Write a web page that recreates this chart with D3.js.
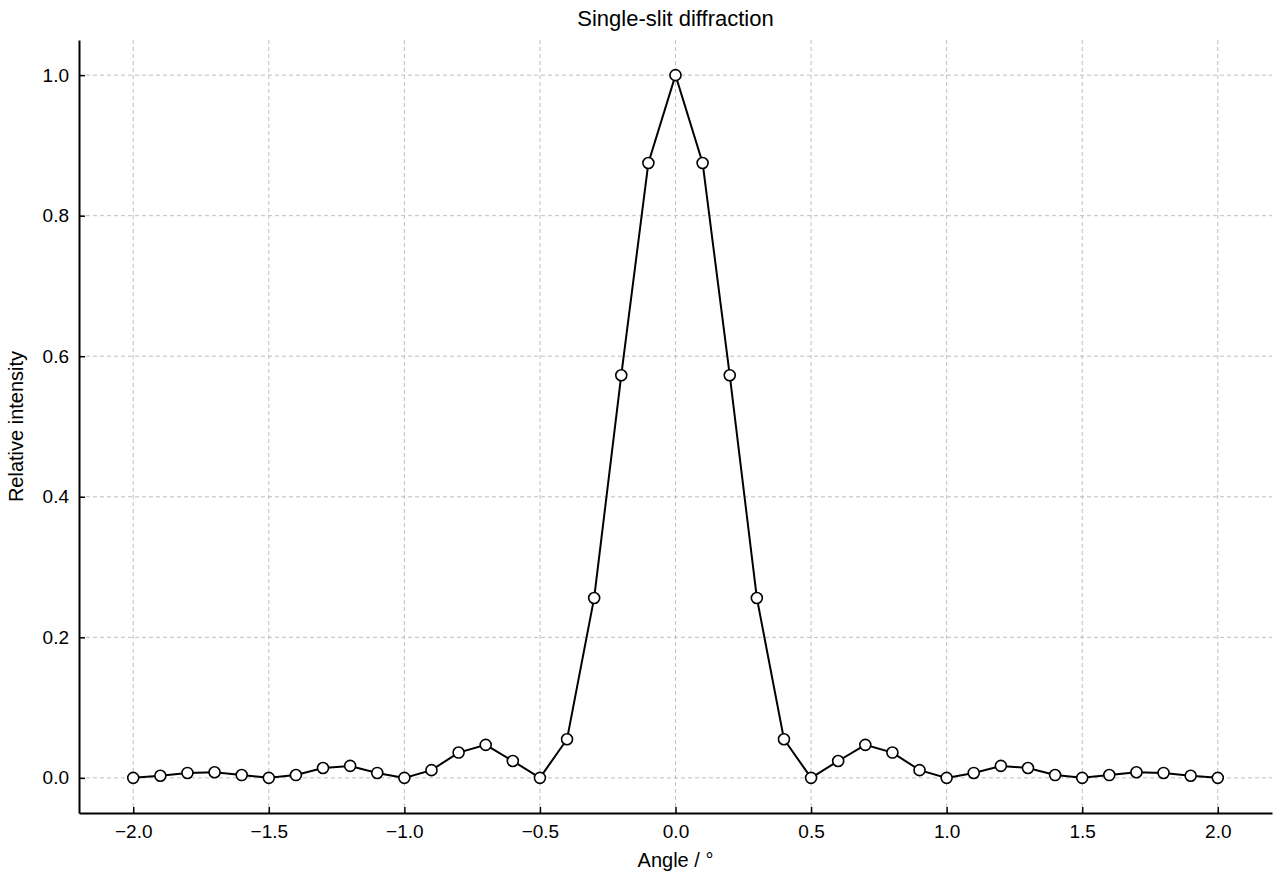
<!DOCTYPE html>
<html><head><meta charset="utf-8">
<script src="https://cdn.jsdelivr.net/npm/d3@7"></script>
<style>body{margin:0;background:#fff}text{font-family:"Liberation Sans",Arial,sans-serif}</style>
</head><body><div id="chart"></div>
<script>
const angles = d3.range(41).map(i => +(-2 + i * 0.1).toFixed(1));
const leftHalf = [0, 0.003, 0.007, 0.008, 0.004, 0, 0.004, 0.014, 0.017, 0.007,
  0, 0.011, 0.036, 0.047, 0.024, 0, 0.055, 0.256, 0.573, 0.875];
const intensity = [...leftHalf, 1, ...leftHalf.slice().reverse()];
const xTicks = [-2, -1.5, -1, -0.5, 0, 0.5, 1, 1.5, 2];
const yTicks = [0, 0.2, 0.4, 0.6, 0.8, 1.0];

const w = 1280, h = 880;
const m = {left: 79, right: 8, top: 40, bottom: 67};
const svg = d3.select('#chart').append('svg').attr('width', w).attr('height', h);

const x = d3.scaleLinear().domain([-2.2, 2.2]).range([m.left, w - m.right]);
const y = d3.scaleLinear().domain([-0.05, 1.05]).range([h - m.bottom, m.top]);

// grid
svg.append('g').selectAll('line').data(xTicks).enter().append('line')
  .attr('x1', d => x(d)).attr('x2', d => x(d)).attr('y1', m.top).attr('y2', h - m.bottom)
  .attr('stroke', '#b0b0b0').attr('stroke-dasharray', '4,3').attr('stroke-width', 0.8);
svg.append('g').selectAll('line').data(yTicks).enter().append('line')
  .attr('y1', d => y(d)).attr('y2', d => y(d)).attr('x1', m.left).attr('x2', w - m.right)
  .attr('stroke', '#b0b0b0').attr('stroke-dasharray', '4,3').attr('stroke-width', 0.8);

const xAxis = svg.append('g').attr('transform', `translate(0,${h - m.bottom})`)
  .call(d3.axisBottom(x).tickValues(xTicks).tickSizeInner(-6).tickSizeOuter(0).tickPadding(12)
    .tickFormat(d => d3.format('.1f')(d).replace('-', '\u2212')));
const yAxis = svg.append('g').attr('transform', `translate(${m.left},0)`)
  .call(d3.axisLeft(y).tickValues(yTicks).tickSizeInner(-6).tickSizeOuter(0).tickPadding(10)
    .tickFormat(d3.format('.1f')));
[xAxis, yAxis].forEach(a => {
  a.attr('font-size', null);
  a.select('.domain').attr('stroke', '#000').attr('stroke-width', 2);
  a.selectAll('.tick line').attr('stroke', '#000').attr('stroke-width', 1.5);
  a.selectAll('.tick text').style('font-size', '19px').attr('fill', '#000')
    .style('font-family', '"Liberation Sans",Arial,sans-serif');
});

const pts = angles.map((a, i) => [a, intensity[i]]);
svg.append('path').datum(pts)
  .attr('d', d3.line().x(d => x(d[0])).y(d => y(d[1])))
  .attr('fill', 'none').attr('stroke', '#000').attr('stroke-width', 2);
svg.append('g').selectAll('circle').data(pts).enter().append('circle')
  .attr('cx', d => x(d[0])).attr('cy', d => y(d[1])).attr('r', 5.5)
  .attr('fill', '#fff').attr('stroke', '#000').attr('stroke-width', 1.6);

svg.append('text').attr('x', (m.left + w - m.right) / 2).attr('y', 26)
  .attr('text-anchor', 'middle').style('font-size', '22px').text('Single-slit diffraction');
svg.append('text').attr('x', (m.left + w - m.right) / 2).attr('y', 867)
  .attr('text-anchor', 'middle').style('font-size', '20px').text('Angle / °');
svg.append('text').attr('transform', `translate(23,${(m.top + h - m.bottom) / 2}) rotate(-90)`)
  .attr('text-anchor', 'middle').style('font-size', '20px').text('Relative intensity');
</script></body></html>
